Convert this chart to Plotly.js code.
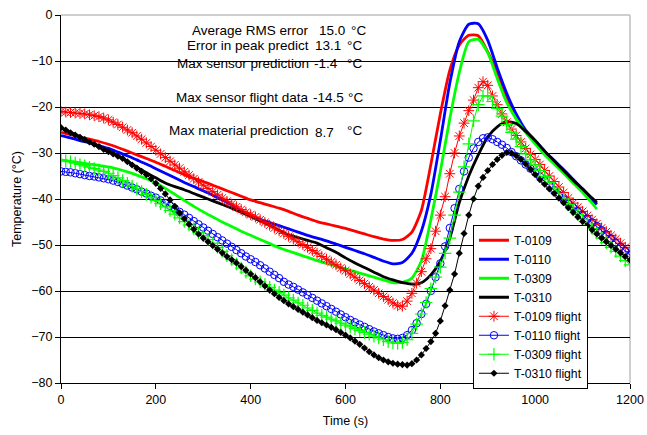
<!DOCTYPE html>
<html>
<head>
<meta charset="utf-8">
<script src="https://cdn.plot.ly/plotly-3.0.1.min.js"></script>
<style>html,body{margin:0;padding:0;background:#fff}#chart{width:647px;height:435px}</style>
</head>
<body>
<div id="chart"></div>
<script>
// ---- data ----
const modelTime = [0,20,40,60,80,100,120,140,160,180,200,220,240,260,280,300,320,340,360,380,400,420,440,460,480,500,520,540,560,580,600,620,640,660,680,700,720,740,760,780,800,820,840,860,880,900,920,940,960,980,1000,1020,1040,1060,1080,1100,1120,1130];

const t0109 = [-25.5,-26.0,-26.5,-27.0,-27.5,-28.1,-28.8,-29.6,-30.4,-31.2,-32.0,-32.9,-33.8,-34.7,-35.5,-36.2,-37.0,-37.8,-38.6,-39.4,-40.2,-40.8,-41.4,-42.0,-42.7,-43.5,-44.2,-44.9,-45.4,-45.9,-46.4,-47.0,-47.6,-48.2,-48.7,-49.0,-48.8,-47.2,-42.5,-32.5,-21.5,-12.0,-6.5,-4.4,-4.5,-8.0,-12.5,-17.8,-22.5,-25.4,-27.8,-30.0,-32.2,-34.3,-36.4,-38.4,-40.2,-41.0];

const t0110 = [-26.2,-26.7,-27.3,-27.8,-28.4,-29.0,-29.8,-30.6,-31.5,-32.4,-33.4,-34.4,-35.4,-36.4,-37.3,-38.2,-39.2,-40.2,-41.3,-42.6,-43.6,-44.4,-45.1,-45.8,-46.5,-47.2,-47.9,-48.5,-49.1,-49.8,-50.5,-51.2,-51.9,-52.7,-53.5,-54.1,-53.8,-51.8,-47.0,-39.0,-27.3,-14.8,-5.8,-2.0,-1.9,-5.5,-11.5,-17.0,-21.5,-25.0,-27.3,-29.6,-31.6,-33.6,-35.7,-37.8,-40.0,-41.2];

const t0309 = [-31.5,-31.8,-32.1,-32.4,-32.7,-33.0,-33.5,-34.1,-34.8,-35.6,-36.5,-37.7,-39.0,-40.3,-41.6,-42.8,-43.9,-45.0,-46.0,-47.0,-47.9,-48.8,-49.7,-50.6,-51.3,-52.0,-52.7,-53.4,-54.0,-54.6,-55.2,-55.8,-56.4,-57.0,-57.6,-58.2,-58.1,-57.2,-53.5,-44.5,-34.0,-22.5,-12.5,-5.8,-5.3,-8.2,-13.8,-19.0,-22.6,-25.5,-28.0,-30.4,-32.4,-34.4,-36.5,-38.6,-40.9,-42.2];

const t0310 = [-24.5,-25.5,-26.5,-27.6,-28.7,-29.7,-30.6,-31.8,-33.1,-34.3,-35.4,-36.5,-37.3,-38.0,-38.8,-39.6,-40.4,-41.2,-42.0,-42.9,-43.8,-44.8,-45.7,-46.8,-47.8,-48.4,-49.0,-49.6,-50.6,-51.6,-52.8,-53.9,-54.9,-55.9,-56.9,-57.6,-58.2,-58.5,-58.2,-56.5,-53.5,-48.5,-40.8,-35.0,-30.4,-26.5,-24.3,-23.2,-23.6,-25.3,-27.3,-29.6,-31.7,-33.8,-35.9,-37.8,-39.8,-40.7];

const flightTime = [0,10,20,30,40,50,60,70,80,90,100,110,120,130,140,150,160,170,180,190,200,210,220,230,240,250,260,270,280,290,300,310,320,330,340,350,360,370,380,390,400,410,420,430,440,450,460,470,480,490,500,510,520,530,540,550,560,570,580,590,600,610,620,630,640,650,660,670,680,690,700,710,720,730,740,750,760,770,780,790,800,810,820,830,840,850,860,870,880,890,900,910,920,930,940,950,960,970,980,990,1000,1010,1020,1030,1040,1050,1060,1070,1080,1090,1100,1110,1120,1130,1140,1150,1160,1170,1180,1190,1200];

const f0109 = [-21.0,-21.1,-21.2,-21.3,-21.4,-21.5,-21.7,-21.9,-22.1,-22.4,
-22.8,-23.3,-23.8,-24.4,-25.0,-25.6,-26.3,-27.0,-27.8,-28.6,
-29.4,-30.2,-31.0,-31.8,-32.6,-33.3,-34.1,-34.8,-35.6,-36.3,
-37.0,-37.7,-38.4,-39.1,-39.8,-40.5,-41.1,-41.7,-42.3,-42.9,
-43.4,-43.9,-44.5,-45.1,-45.7,-46.3,-46.9,-47.5,-48.1,-48.7,
-49.3,-49.9,-50.5,-51.2,-51.8,-52.5,-53.1,-53.7,-54.3,-55.0,
-55.6,-56.3,-57.0,-57.7,-58.4,-59.1,-59.8,-60.5,-61.2,-61.9,
-62.6,-63.2,-63.3,-62.2,-60.5,-58.3,-55.8,-53.0,-50.8,-47.0,
-43.5,-39.5,-34.5,-30.0,-26.3,-23.5,-20.8,-18.5,-15.8,-14.5,
-15.3,-17.6,-19.5,-21.5,-23.3,-24.8,-26.2,-27.6,-29.0,-30.3,
-31.4,-32.5,-33.8,-35.0,-36.2,-37.4,-38.6,-39.8,-40.9,-41.8,
-42.7,-43.6,-44.5,-45.4,-46.3,-47.1,-47.9,-48.7,-49.6,-50.5,-51.4];

const f0110 = [-34.0,-34.1,-34.2,-34.4,-34.6,-34.8,-35.0,-35.1,-35.3,-35.5,
-35.7,-36.0,-36.3,-36.7,-37.1,-37.5,-37.9,-38.4,-38.8,-39.3,
-39.7,-40.3,-40.9,-41.5,-42.1,-42.8,-43.4,-44.1,-44.8,-45.5,
-46.2,-46.9,-47.6,-48.3,-49.0,-49.7,-50.4,-51.1,-51.8,-52.5,
-53.1,-53.7,-54.4,-55.1,-55.8,-56.5,-57.2,-58.0,-58.6,-59.1,
-59.7,-60.3,-60.9,-61.5,-62.1,-62.7,-63.3,-63.9,-64.5,-65.1,
-65.7,-66.3,-66.8,-67.3,-67.8,-68.3,-68.8,-69.2,-69.6,-70.0,
-70.3,-70.4,-70.2,-69.6,-68.5,-67.0,-65.0,-62.8,-60.0,-57.0,
-54.0,-50.3,-46.3,-42.0,-37.8,-34.0,-31.0,-29.0,-27.6,-26.8,
-26.6,-27.0,-27.6,-28.2,-28.9,-29.8,-30.7,-31.6,-32.5,-33.4,
-34.2,-35.1,-36.1,-37.1,-38.1,-39.1,-40.1,-41.1,-41.9,-42.7,
-43.5,-44.3,-45.1,-45.9,-46.8,-47.7,-48.6,-49.5,-50.4,-51.3,-52.2];

const f0309 = [-31.5,-31.7,-31.9,-32.2,-32.5,-32.8,-33.1,-33.4,-33.7,-34.0,
-34.4,-34.9,-35.4,-36.0,-36.6,-37.2,-37.8,-38.4,-39.0,-39.6,
-40.3,-41.0,-41.7,-42.5,-43.3,-44.1,-44.9,-45.7,-46.5,-47.3,
-48.0,-48.8,-49.6,-50.5,-51.4,-52.3,-53.2,-54.1,-55.0,-55.9,
-56.7,-57.4,-58.0,-58.6,-59.2,-59.8,-60.3,-60.9,-61.5,-62.0,
-62.6,-63.1,-63.7,-64.2,-64.8,-65.3,-65.7,-66.1,-66.5,-67.0,
-67.4,-67.8,-68.2,-68.6,-69.0,-69.4,-69.8,-70.2,-70.6,-71.0,
-71.3,-71.4,-71.2,-70.6,-69.2,-67.2,-65.0,-62.5,-59.5,-57.0,
-54.8,-51.8,-48.5,-43.5,-38.5,-33.0,-28.0,-23.0,-19.5,-17.6,
-17.6,-18.8,-20.3,-22.0,-23.8,-25.5,-27.0,-28.6,-30.2,-31.5,
-32.6,-33.8,-35.1,-36.4,-37.6,-38.8,-40.0,-41.2,-42.4,-43.4,
-44.4,-45.4,-46.4,-47.4,-48.5,-49.5,-50.5,-51.4,-52.4,-53.4,-54.3];

const f0310 = [-24.5,-25.0,-25.6,-26.1,-26.6,-27.1,-27.6,-28.1,-28.6,-29.2,
-29.7,-30.2,-30.7,-31.2,-31.9,-32.6,-33.3,-34.0,-34.7,-35.6,
-36.6,-37.7,-38.9,-40.2,-41.6,-43.0,-44.3,-45.5,-46.6,-47.6,
-48.5,-49.3,-50.1,-50.9,-51.7,-52.5,-53.2,-53.9,-54.7,-55.5,
-56.3,-57.1,-58.0,-58.9,-59.8,-60.6,-61.4,-62.1,-62.8,-63.4,
-64.0,-64.6,-65.2,-65.8,-66.4,-66.9,-67.4,-67.9,-68.4,-69.0,
-69.6,-70.2,-70.9,-71.6,-72.4,-73.2,-73.9,-74.5,-75.0,-75.4,
-75.7,-75.9,-76.0,-76.1,-75.8,-75.0,-73.9,-72.5,-71.0,-69.2,
-66.5,-63.2,-59.8,-56.3,-51.8,-47.5,-43.5,-40.0,-37.2,-35.3,
-33.8,-32.5,-31.4,-30.5,-29.9,-30.0,-30.6,-31.4,-32.4,-33.5,
-34.7,-35.8,-36.8,-37.8,-38.8,-39.8,-40.8,-41.9,-42.9,-43.9,
-44.9,-45.8,-46.7,-47.6,-48.5,-49.3,-50.1,-50.9,-51.7,-52.5,-53.3];

const xTickVals = [0,200,400,600,800,1000,1200];
const yTickVals = [0,-10,-20,-30,-40,-50,-60,-70,-80];

const statLabels = ["Average RMS error","Error in peak predict","Max sensor prediction","Max sensor flight data","Max material prediction"];
const statValues = ["15.0","13.1","-1.4","-14.5","8.7"];
const statUnit = "°C";

// ---- chart ----
const FONT = "Arial, 'Liberation Sans', sans-serif";
function model(name, y, color){
  return {x: modelTime, y: y, name: name, type: 'scatter', mode: 'lines',
    line: {color: color, width: 2.8, shape: 'spline', smoothing: 0.6}};
}
function flight(name, y, color, symbol, size, mlw){
  return {x: flightTime, y: y, name: name, type: 'scatter', mode: 'lines+markers',
    line: {color: color, width: 1},
    marker: {symbol: symbol, size: size, color: color, line: {color: color, width: mlw}}};
}
const traces = [
  model('T-0109', t0109, '#FF0000'),
  model('T-0110', t0110, '#0000FF'),
  model('T-0309', t0309, '#00FF00'),
  model('T-0310', t0310, '#000000'),
  flight('T-0109 flight', f0109, '#FF0000', 'asterisk-open', 9, 1),
  flight('T-0110 flight', f0110, '#0000FF', 'circle-open', 7.5, 1),
  flight('T-0309 flight', f0309, '#00FF00', 'cross-thin-open', 9, 1.2),
  flight('T-0310 flight', f0310, '#000000', 'diamond', 5.5, 0)
];

// stats text positions (data coords)
const rowY = [-3.3, -6.7, -10.5, -18.0, -25.0];
const valX = [544, 535.5, 533.5, 531.5, 535.5];
const unitX = [611, 603, 603, 604, 603];
const annotations = [];
statLabels.forEach((lab, i) => {
  annotations.push({x: 527, y: rowY[i], xref: 'x', yref: 'y', text: lab, showarrow: false,
    xanchor: 'right', yanchor: 'middle', font: {family: FONT, size: 13.5, color: '#000'}});
  annotations.push({x: valX[i] - 4, y: rowY[i] - (i === 4 ? 0.6 : 0), xref: 'x', yref: 'y', text: statValues[i], showarrow: false,
    xanchor: 'left', yanchor: 'middle', font: {family: FONT, size: 13.5, color: '#000'}});
  annotations.push({x: unitX[i] - 4, y: rowY[i], xref: 'x', yref: 'y', text: statUnit, showarrow: false,
    xanchor: 'left', yanchor: 'middle', font: {family: FONT, size: 13.5, color: '#000'}});
});

const layout = {
  width: 647, height: 435,
  margin: {l: 61, r: 17, t: 15, b: 52, pad: 0},
  paper_bgcolor: '#fff', plot_bgcolor: '#fff',
  font: {family: FONT, size: 12.5, color: '#000'},
  showlegend: true,
  legend: {x: 0.724, y: 0.43, xanchor: 'left', yanchor: 'top', bgcolor: '#fff',
    bordercolor: '#000', borderwidth: 1, font: {family: FONT, size: 12.2, color: '#000'},
    tracegroupgap: 0},
  xaxis: {range: [0, 1200], tickvals: xTickVals, ticks: 'outside', ticklen: 5, tickcolor: '#000',
    showline: true, linecolor: '#000', linewidth: 1, showgrid: false, zeroline: false,
    tickfont: {family: FONT, size: 12.5, color: '#000'},
    title: {text: 'Time (s)', font: {family: FONT, size: 12.5, color: '#000'}, standoff: 10}},
  yaxis: {range: [-80, 0], tickvals: yTickVals, ticks: 'outside', ticklen: 5, tickcolor: '#000',
    showline: true, linecolor: '#000', linewidth: 1, showgrid: true, gridcolor: '#000', gridwidth: 1,
    zeroline: false, tickfont: {family: FONT, size: 12.5, color: '#000'},
    title: {text: 'Temperature (°C)', font: {family: FONT, size: 12.5, color: '#000'}, standoff: 6}},
  shapes: [
    {type: 'rect', xref: 'x', yref: 'y', x0: 205, x1: 646, y0: -0.6, y1: -27, fillcolor: '#fff', line: {width: 0}, layer: 'below'},
    {type: 'line', xref: 'paper', yref: 'paper', x0: 0, x1: 1, y0: 1, y1: 1, line: {color: '#bfbfbf', width: 1.5}, layer: 'below'},
    {type: 'line', xref: 'paper', yref: 'paper', x0: 1, x1: 1, y0: 0, y1: 1, line: {color: '#bfbfbf', width: 1.5}, layer: 'below'}
  ],
  annotations: annotations
};

Plotly.newPlot('chart', traces, layout, {displayModeBar: false, staticPlot: true});
</script>
</body>
</html>
